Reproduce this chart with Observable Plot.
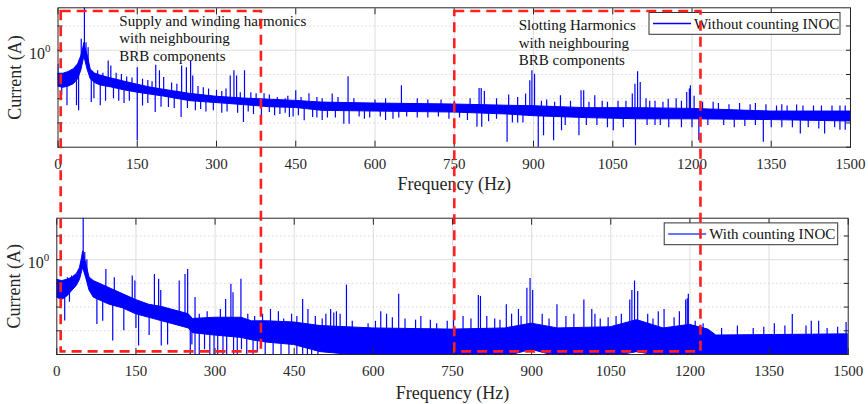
<!DOCTYPE html>
<html><head><meta charset="utf-8">
<script src="https://cdn.jsdelivr.net/npm/d3@7"></script>
<script src="https://cdn.jsdelivr.net/npm/@observablehq/plot@0.6"></script>
<style>
html,body{margin:0;padding:0;background:#fff;}
#wrap{position:relative;width:868px;height:404px;overflow:hidden;font-family:"Liberation Serif","Times New Roman",serif;}
#wrap svg{position:absolute;left:0;max-width:none;}
</style></head><body><div id="wrap"></div>
<script>
// ---------- shared axes ----------
const freqTicks = [0,150,300,450,600,750,900,1050,1200,1350,1500];
const decadeTicks = [1e-4,1e-3,1e-2,1e-1,1,10];
const yDomain = [1e-4, 10**1.75];

// ---------- top panel: Without counting INOC (values are log10 of current in A) ----------
const topBandFreq = [0,10,20,30,38,44,48,50,52,56,62,70,80,100,125,150,175,200,250,300,350,400,450,500,600,750,850,900,1000,1100,1200,1350,1500];
const topBandHi = [-0.97,-0.97,-0.9,-0.78,-0.58,-0.25,0.1,0.3,0.1,-0.2,-0.8,-0.96,-1.04,-1.16,-1.29,-1.42,-1.54,-1.63,-1.8,-1.92,-1.99,-2.04,-2.09,-2.16,-2.2,-2.24,-2.29,-2.31,-2.39,-2.39,-2.42,-2.53,-2.53];
const topBandLo = [-1.5,-1.55,-1.5,-1.4,-1.2,-0.85,-0.45,-0.25,-0.45,-0.8,-1.2,-1.35,-1.45,-1.53,-1.65,-1.75,-1.83,-1.91,-2.1,-2.18,-2.26,-2.35,-2.38,-2.5,-2.53,-2.57,-2.65,-2.72,-2.8,-2.85,-2.85,-2.88,-2.94];
const topPeaks = [[0,-0.58],[44,0.45],[50,1.75],[53,0.31],[57,0.1],[75,-0.85],[85,-0.95],[95,-0.44],[100,-0.65],[110,-0.95],[120,-1.0],[130,-1.1],[140,-1.15],[150,-0.72],[160,-1.2],[170,-1.25],[178,-1.3],[185,-0.62],[192,-0.85],[200,-1.13],[215,-1.35],[225,-1.4],[234,-0.65],[243,-0.72],[251,-0.44],[255,-1.06],[265,-1.5],[275,-1.55],[285,-1.6],[300,-1.65],[310,-1.7],[318,-1.6],[326,-1.06],[333,-0.85],[338,-1.06],[345,-1.75],[353,-0.85],[365,-1.75],[375,-1.8],[390,-1.8],[400,-1.85],[415,-1.95],[430,-2.0],[435,-1.9],[450,-1.67],[460,-1.95],[475,-1.8],[490,-1.95],[500,-2.0],[519,-1.81],[530,-1.95],[549,-1.09],[560,-2.0],[600,-2.05],[620,-2.0],[650,-1.47],[680,-2.0],[700,-2.05],[725,-2.05],[750,-2.1],[780,-2.0],[797,-1.58],[801,-1.58],[807,-1.7],[830,-2.0],[853,-1.85],[870,-1.95],[885,-1.81],[893,-1.26],[897,-0.85],[902,-0.99],[915,-2.1],[925,-2.05],[940,-2.15],[951,-1.88],[970,-2.1],[990,-1.67],[995,-1.67],[1005,-2.15],[1016,-1.88],[1030,-2.1],[1040,-2.15],[1060,-2.1],[1075,-2.1],[1087,-1.81],[1092,-1.4],[1097,-0.89],[1102,-1.33],[1113,-2.0],[1120,-2.1],[1130,-2.1],[1145,-2.15],[1155,-2.02],[1170,-2.0],[1180,-2.1],[1190,-1.74],[1195,-1.6],[1197,-1.47],[1204,-1.9],[1220,-2.15],[1240,-2.15],[1250,-2.2],[1270,-2.25],[1290,-2.2],[1310,-2.25],[1320,-2.2],[1340,-2.25],[1360,-2.3],[1370,-2.25],[1380,-2.3],[1398,-2.26],[1410,-2.3],[1430,-2.3],[1445,-2.3],[1465,-2.3],[1480,-2.3],[1490,-2.3]];
const topDips = [[7,-1.88],[17,-2.29],[35,-2.29],[39,-2.5],[63,-2.16],[68,-2.0],[80,-2.29],[90,-2.1],[105,-2.0],[115,-2.1],[125,-2.2],[135,-2.1],[150,-3.73],[160,-2.3],[170,-2.2],[184,-2.57],[195,-2.35],[209,-2.36],[220,-2.4],[233,-2.77],[245,-2.4],[260,-2.5],[270,-2.45],[280,-2.55],[294,-2.5],[310,-2.6],[320,-2.55],[340,-2.6],[351,-2.98],[360,-2.55],[370,-2.65],[385,-2.7],[400,-2.57],[410,-2.7],[420,-2.65],[430,-2.6],[438,-2.77],[445,-2.75],[455,-2.7],[466,-2.91],[482,-2.77],[490,-2.8],[500,-2.9],[510,-2.8],[525,-2.8],[541,-3.05],[551,-3.05],[570,-2.75],[580,-2.85],[590,-2.8],[610,-2.75],[620,-2.9],[634,-2.85],[645,-2.8],[660,-2.75],[680,-2.8],[700,-2.8],[720,-2.75],[740,-2.85],[760,-2.8],[775,-2.9],[793,-3.18],[802,-3.18],[815,-2.95],[830,-2.85],[850,-3.8],[860,-3.0],[870,-3.0],[880,-3.0],[909,-4.1],[919,-3.53],[938,-3.73],[953,-3.32],[960,-3.1],[986,-3.53],[1000,-3.1],[1020,-3.1],[1040,-3.2],[1051,-3.32],[1070,-3.2],[1093,-3.94],[1115,-3.1],[1130,-3.1],[1140,-3.1],[1156,-3.2],[1180,-3.2],[1200,-3.2],[1213,-3.73],[1230,-3.1],[1260,-3.1],[1280,-3.2],[1300,-3.15],[1320,-3.1],[1335,-3.8],[1350,-3.2],[1370,-3.2],[1390,-3.2],[1405,-3.46],[1420,-3.2],[1440,-3.25],[1451,-3.46],[1470,-3.2],[1480,-3.3],[1490,-3.3]];

// ---------- bottom panel: With counting INOC ----------
const botBandFreq = [0,10,20,30,38,44,48,50,52,56,62,70,85,100,125,150,175,200,250,258,300,350,370,400,450,500,600,750,850,900,950,1050,1100,1150,1200,1235,1250,1500];
const botBandHi = [-0.85,-0.9,-0.85,-0.75,-0.6,-0.35,0.1,0.35,0.15,-0.2,-0.75,-0.9,-1.05,-1.2,-1.45,-1.7,-1.9,-2.0,-2.3,-2.5,-2.45,-2.45,-2.6,-2.6,-2.65,-2.8,-2.9,-2.95,-2.9,-2.7,-2.9,-2.85,-2.55,-2.9,-2.75,-2.95,-3.2,-3.15];
const botBandLo = [-1.6,-1.7,-1.55,-1.3,-1.1,-0.85,-0.5,-0.35,-0.5,-0.8,-1.3,-1.6,-1.75,-1.9,-2.05,-2.3,-2.45,-2.6,-2.9,-3.1,-3.2,-3.3,-3.4,-3.5,-3.6,-3.9,-4.1,-4.1,-4.1,-3.8,-4.1,-4.1,-3.9,-4.1,-4.1,-4.1,-4.1,-4.1];
const botPeaks = [[20,-0.76],[28,-0.69],[45,-0.2],[50,1.75],[53,0.3],[57,0.0],[93,-0.41],[109,-0.76],[143,-0.69],[148,-0.9],[185,-0.62],[193,-0.83],[197,-1.3],[232,-0.9],[243,-0.62],[248,-0.41],[262,-1.6],[270,-2.3],[285,-2.2],[300,-2.5],[310,-2.1],[320,-1.68],[330,-1.04],[334,-1.4],[349,-0.83],[362,-2.3],[375,-2.4],[390,-2.3],[405,-2.1],[420,-2.2],[430,-2.5],[445,-2.3],[455,-2.4],[466,-1.68],[476,-2.1],[490,-2.4],[503,-2.5],[510,-2.3],[519,-2.1],[525,-2.25],[530,-2.2],[537,-2.3],[549,-1.07],[560,-2.6],[590,-2.7],[604,-2.6],[614,-2.2],[625,-2.3],[636,-2.45],[648,-1.46],[660,-2.5],[680,-2.55],[690,-2.4],[708,-2.55],[720,-2.7],[740,-2.6],[752,-2.4],[770,-2.4],[785,-2.5],[799,-1.51],[803,-1.55],[815,-2.4],[830,-2.5],[840,-2.55],[852,-1.9],[862,-2.3],[875,-2.1],[880,-2.4],[891,-1.21],[897,-0.79],[902,-1.3],[920,-2.3],[933,-2.5],[948,-1.9],[965,-2.4],[980,-2.3],[999,-1.7],[1014,-2.1],[1020,-2.3],[1030,-2.5],[1045,-2.45],[1060,-2.4],[1070,-2.3],[1086,-1.7],[1090,-1.3],[1095,-0.9],[1101,-1.34],[1120,-2.3],[1130,-2.5],[1140,-2.2],[1151,-2.1],[1170,-2.45],[1180,-2.2],[1192,-1.7],[1195,-1.65],[1197,-1.46],[1210,-2.6],[1225,-2.7],[1260,-2.9],[1290,-2.8],[1320,-2.9],[1340,-2.85],[1360,-2.7],[1380,-2.8],[1394,-2.31],[1420,-2.8],[1430,-2.6],[1444,-2.6],[1460,-2.9],[1480,-2.85],[1496,-2.65]];
const botDips = [[15,-2.59],[24,-1.8],[76,-2.73],[87,-2.6],[106,-3.43],[127,-3.0],[150,-2.9],[155,-3.64],[175,-3.2],[198,-3.64],[210,-3.6],[253,-4.1],[256,-3.6],[262,-4.1],[270,-4.1],[280,-3.8],[290,-4.1],[298,-4.1],[305,-4.0],[315,-4.1],[322,-4.1],[335,-4.1],[342,-4.0],[350,-3.8],[360,-4.1],[372,-4.1],[380,-3.9],[395,-4.1],[410,-4.1],[425,-4.0],[440,-4.1],[455,-4.1],[466,-4.1],[475,-4.1],[483,-4.1],[495,-4.1]];

// ---------- annotation boxes (frequency span, top / bottom current) ----------
const boxSpans = [[6,385],[751,1217]];
const boxTopExp = 1.6;      // on top panel
const boxBottomExp = -3.89; // on bottom panel
const annotations = [
  {f:116, e:0.52, text:"Supply and winding harmonics\nwith neighbouring\nBRB components"},
  {f:872, e:0.34, text:"Slotting Harmonics\nwith neighbouring\nBRB components"}
];
const legendTop = "Without counting INOC";
const legendBottom = "With counting INOC";

const BLUE = "#0000ff";
const INK = "#262626";

function makePanel({bandF, hi, lo, peaks, dips, m, notes}) {
  const band = bandF.map((f,i)=>({f, hi:10**hi[i], lo:10**lo[i]}));
  const mid = d3.scaleLinear().domain(bandF).range(bandF.map((f,i)=>(hi[i]+lo[i])/2));
  const spikes = peaks.concat(dips).map(([f,e])=>({f, base:10**mid(f), v:10**e}));
  const marks = [
    Plot.ruleX(freqTicks.slice(1,-1), {stroke:"#dedede", strokeWidth:1}),
    Plot.ruleY(decadeTicks.filter(d=>d!==1 && d>1e-4), {stroke:"#c4c4c4", strokeDasharray:"1,3"}),
    Plot.ruleY([1], {stroke:"#dedede"}),
    Plot.areaY(band, {x:"f", y1:"lo", y2:"hi", fill:BLUE, stroke:BLUE, strokeWidth:1, clip:true}),
    Plot.ruleX(spikes, {x:"f", y1:"base", y2:"v", stroke:BLUE, strokeWidth:1.2, clip:true}),
    Plot.frame({stroke:INK, strokeWidth:1}),
    Plot.axisX({anchor:"bottom", ticks:freqTicks, tickSize:-6, tickPadding:17, tickFormat:d=>String(d), label:null, fontSize:15, color:INK}),
    Plot.axisX({anchor:"top", ticks:freqTicks, tickSize:-6, tickFormat:()=>"", label:null}),
    Plot.axisY({anchor:"left", ticks:decadeTicks, tickSize:-5, tickFormat:()=>"", label:null}),
    Plot.axisY({anchor:"right", ticks:decadeTicks, tickSize:-5, tickFormat:()=>"", label:null}),
    Plot.text(["Frequency (Hz)"], {frameAnchor:"bottom", lineAnchor:"middle", textAnchor:"middle", dy:m.xlab, fontSize:18, fill:INK}),
    Plot.text(["Current (A)"], {frameAnchor:"left", textAnchor:"middle", lineAnchor:"middle", rotate:-90, dx:-43, fontSize:18, fill:INK})
  ];
  if (notes) marks.push(Plot.text(notes, {x:"f", y:d=>10**d.e, text:"text", textAnchor:"start", lineAnchor:"middle", lineHeight:1.18, fontSize:15, fill:"#111"}));
  return Plot.plot({
    width:868, height:200,
    marginLeft:m.l, marginRight:m.r, marginTop:m.t, marginBottom:m.b,
    style:{fontFamily:'"Liberation Serif","Times New Roman",serif', fontSize:"15px", color:INK, background:"white"},
    x:{domain:[0,1500]},
    y:{type:"log", domain:yDomain},
    marks
  });
}

const wrap = document.getElementById("wrap");
const topChart = makePanel({bandF:topBandFreq, hi:topBandHi, lo:topBandLo, peaks:topPeaks, dips:topDips,
  m:{l:57.5, r:18, t:7.3, b:53.3, xlab:36.6}, notes:annotations});
const botChart = makePanel({bandF:botBandFreq, hi:botBandHi, lo:botBandLo, peaks:botPeaks, dips:botDips,
  m:{l:56.3, r:20.3, t:13.7, b:50, xlab:38.7}});
const BOT_OFF = 204;
topChart.style.top = "0px";
botChart.style.top = BOT_OFF + "px";
wrap.appendChild(topChart);
wrap.appendChild(botChart);

// ---------- overlay (exponent labels, legends, dashed boxes) ----------
const ov = d3.select(wrap).append("svg").attr("width",868).attr("height",404)
  .style("top","0px").style("pointer-events","none").style("overflow","visible");

const panels = [
  {chart:topChart, off:0, legend:legendTop, lw:191, stroke:BLUE, sw:1.5, op:1},
  {chart:botChart, off:BOT_OFF, legend:legendBottom, lw:173.5, stroke:"#4a5cff", sw:2, op:0.85}
];
for (const p of panels) {
  const sx = p.chart.scale("x"), sy = p.chart.scale("y");
  const x0 = sx.range[0], x1 = sx.range[1];
  const yTop = Math.min(...sy.range) + p.off;
  const y1 = sy.apply(1) + p.off;
  ov.append("text").attr("x", x0-12.5).attr("y", y1+9.3).attr("text-anchor","end").attr("font-size",16)
    .attr("font-family",'"Liberation Serif","Times New Roman",serif').attr("fill",INK).text("10");
  ov.append("text").attr("x", x0-12.5).attr("y", y1+2).attr("font-size",11)
    .attr("font-family",'"Liberation Serif","Times New Roman",serif').attr("fill",INK).text("0");
  const lx = x1 - 10 - p.lw, ly = yTop + 5.2;
  const g = ov.append("g");
  g.append("rect").attr("x",lx).attr("y",ly).attr("width",p.lw).attr("height",21.8)
    .attr("fill","white").attr("stroke","#333").attr("stroke-width",1);
  g.append("line").attr("x1",lx+4).attr("x2",lx+42).attr("y1",ly+11).attr("y2",ly+11)
    .attr("stroke",p.stroke).attr("stroke-width",p.sw).attr("opacity",p.op);
  g.append("text").attr("x",lx+45).attr("y",ly+16).attr("font-size",15)
    .attr("font-family",'"Liberation Serif","Times New Roman",serif').attr("fill","#111").text(p.legend);
}
{
  const sx = topChart.scale("x"), syT = topChart.scale("y"), syB = botChart.scale("y");
  const yT = syT.apply(10**boxTopExp), yB = syB.apply(10**boxBottomExp) + BOT_OFF;
  for (const [fa, fb] of boxSpans) {
    const xa = sx.apply(fa), xb = sx.apply(fb);
    ov.append("path").attr("d", `M${xa},${yT}H${xb}V${yB}H${xa}Z`)
      .attr("fill","none").attr("stroke","#ff1f1f").attr("stroke-width",2.6).attr("stroke-dasharray","10,6");
  }
}
</script></body></html>
